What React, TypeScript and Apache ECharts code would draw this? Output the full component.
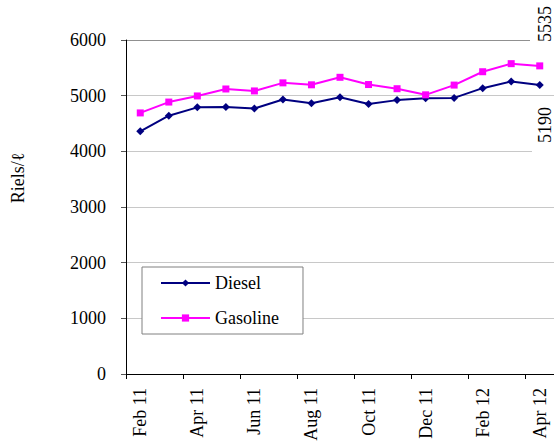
import React, { useEffect, useRef } from "react";
import * as echarts from "echarts";

const months = [
  "Feb 11", "Mar 11", "Apr 11", "May 11", "Jun 11", "Jul 11", "Aug 11", "Sep 11",
  "Oct 11", "Nov 11", "Dec 11", "Jan 12", "Feb 12", "Mar 12", "Apr 12",
];
const diesel = [4360, 4640, 4790, 4795, 4770, 4930, 4865, 4970, 4850, 4920, 4955, 4960, 5135, 5255, 5190];
const gasoline = [4690, 4885, 4995, 5120, 5085, 5230, 5195, 5330, 5200, 5125, 5015, 5190, 5430, 5575, 5535];
const yAxisName = "Riels/ℓ";
const lastGasolineLabel = "5535";
const lastDieselLabel = "5190";

const FONT = "'Liberation Serif', 'Times New Roman', serif";

export default function App() {
  const ref = useRef<HTMLDivElement>(null);
  useEffect(() => {
    if (!ref.current) return;
    const chart = echarts.init(ref.current, null, { renderer: "svg" });
    chart.setOption({
      animation: false,
      backgroundColor: "#fff",
      grid: { left: 126, top: 40, width: 429, height: 334 },
      legend: {
        orient: "vertical",
        left: 142,
        top: 267,
        padding: [7, 24, 7, 18],
        itemWidth: 49,
        itemHeight: 9,
        itemGap: 17,
        backgroundColor: "#fff",
        borderColor: "#808080",
        borderWidth: 1,
        textStyle: { fontFamily: FONT, fontSize: 18, color: "#000" },
        data: ["Diesel", "Gasoline"],
        z: 5,
      },
      xAxis: {
        type: "category",
        data: months,
        boundaryGap: true,
        axisLine: { lineStyle: { color: "#000", width: 1 } },
        axisTick: { show: true, interval: 1, length: 5, lineStyle: { color: "#000" } },
        axisLabel: {
          interval: 1,
          rotate: 90,
          margin: 14,
          fontFamily: FONT,
          fontSize: 18,
          color: "#000",
        },
        splitLine: { show: false },
      },
      yAxis: {
        type: "value",
        min: 0,
        max: 6000,
        interval: 1000,
        axisLine: { show: true, lineStyle: { color: "#000", width: 1 } },
        axisTick: { show: true, length: 5, lineStyle: { color: "#555" } },
        axisLabel: {
          margin: 20,
          fontFamily: FONT,
          fontSize: 18,
          color: "#000",
          formatter: (v: number) => String(v),
        },
        splitLine: {
          show: true,
          lineStyle: {
            color: ["#c8c8c8", "#c8c8c8", "#c8c8c8", "#c8c8c8", "#c8c8c8", "#c8c8c8", "#909090"],
            width: 1,
          },
        },
      },
      graphic: [
        { type: "rect", z: 1, shape: { x: 530, y: 0, width: 30, height: 50 }, style: { fill: "#fff" } },
        { type: "rect", z: 1, shape: { x: 532, y: 100, width: 30, height: 58 }, style: { fill: "#fff" } },
        {
          type: "text",
          z: 3,
          x: 545,
          y: 24,
          rotation: Math.PI / 2,
          style: { text: lastGasolineLabel, font: `18px ${FONT}`, fill: "#000", align: "center", verticalAlign: "middle" },
        },
        {
          type: "text",
          z: 3,
          x: 545,
          y: 125,
          rotation: Math.PI / 2,
          style: { text: lastDieselLabel, font: `18px ${FONT}`, fill: "#000", align: "center", verticalAlign: "middle" },
        },
        {
          type: "text",
          z: 3,
          x: 18,
          y: 178,
          rotation: Math.PI / 2,
          style: { text: yAxisName, font: `18px ${FONT}`, fill: "#000", align: "center", verticalAlign: "middle" },
        },
      ],
      series: [
        {
          name: "Diesel",
          type: "line",
          data: diesel,
          symbol: "diamond",
          symbolSize: 8,
          lineStyle: { color: "#000080", width: 2 },
          itemStyle: { color: "#000080" },
          z: 3,
        },
        {
          name: "Gasoline",
          type: "line",
          data: gasoline,
          symbol: "rect",
          symbolSize: 7,
          lineStyle: { color: "#ff00ff", width: 2 },
          itemStyle: { color: "#ff00ff" },
          z: 3,
        },
      ],
    });
    return () => chart.dispose();
  }, []);
  return (
    <div
      ref={ref}
      style={{ position: "fixed", left: 0, top: 0, width: 554, height: 444 }}
    />
  );
}
